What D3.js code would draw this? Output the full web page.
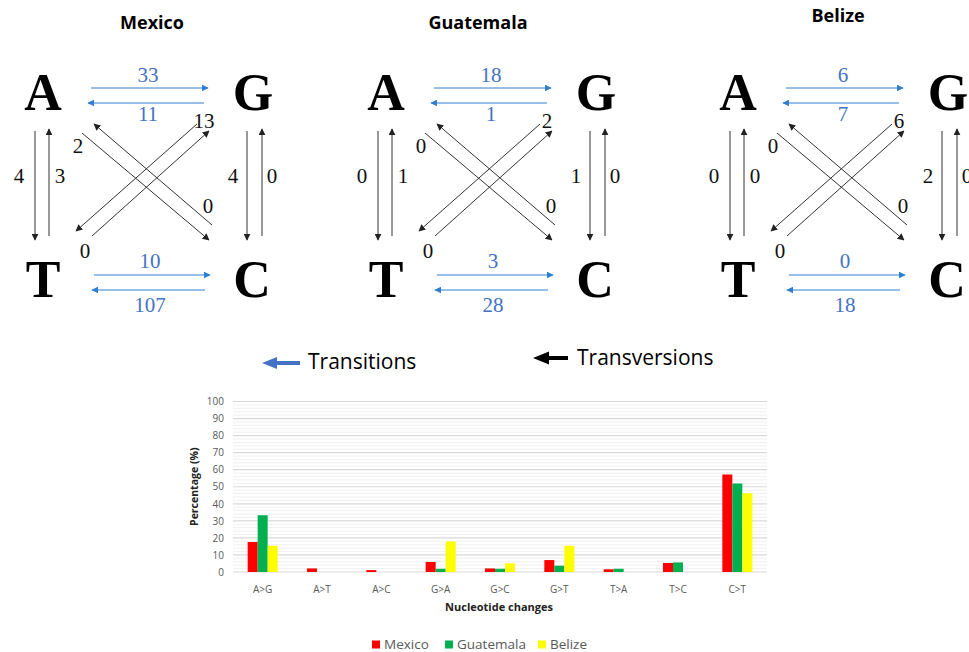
<!DOCTYPE html>
<html>
<head>
<meta charset="utf-8">
<script src="https://cdn.jsdelivr.net/npm/d3@7"></script>
<style>
  body { margin: 0; background: #fff; }
  svg { display: block; }
</style>
</head>
<body>
<div class="mainView"></div>
<script>
// ---- data ----
let countries = ["Mexico", "Guatemala", "Belize"];
let countryColors = ["#ff0000", "#00b050", "#ffff00"];

// counts shown on the substitution diagrams
let changeKeys = ["A>G", "G>A", "T>C", "C>T", "A>T", "T>A", "G>C", "C>G", "A>C", "C>A", "G>T", "T>G"];
let mexicoCounts    = [33, 11, 10, 107, 4, 3, 4, 0, 2, 0, 13, 0];
let guatemalaCounts = [18, 1, 3, 28, 0, 1, 1, 0, 0, 0, 2, 0];
let belizeCounts    = [6, 7, 0, 18, 0, 0, 2, 0, 0, 0, 6, 0];

// bar chart (percentage)
let barCategories = ["A>G", "A>T", "A>C", "G>A", "G>C", "G>T", "T>A", "T>C", "C>T"];
let mexicoPct    = [17.6, 2.1, 1.1, 5.9, 2.1, 7.0, 1.6, 5.3, 57.2];
let guatemalaPct = [33.3, 0, 0, 1.9, 1.9, 3.7, 1.9, 5.6, 51.9];
let belizePct    = [15.4, 0, 0, 17.9, 5.1, 15.4, 0, 0, 46.2];
let yTicks = [0, 10, 20, 30, 40, 50, 60, 70, 80, 90, 100];

let storage = {
    counts: [mexicoCounts, guatemalaCounts, belizeCounts],
    pct: [mexicoPct, guatemalaPct, belizePct]
};

function config(){
    let width = 969, height = 652;
    let svg = d3.select(".mainView")
        .append("svg")
        .attr("width", width)
        .attr("height", height);
    let defs = svg.append("defs");
    [["headBlue", "#2f7fd0"], ["headBlack", "#222"]].forEach(h => {
        defs.append("marker")
            .attr("id", h[0])
            .attr("viewBox", "0 0 10 10")
            .attr("refX", 9).attr("refY", 5)
            .attr("markerWidth", 7).attr("markerHeight", 7)
            .attr("markerUnits", "userSpaceOnUse")
            .attr("orient", "auto")
            .append("path")
            .attr("d", "M0,0 L10,5 L0,10 z")
            .style("fill", h[1]);
    });
    return { width, height, svg };
}

// one diagram, nodes A G T C
function drawDiagram(svg, counts, ox, title, titleX, titleY){
    let g = svg.append("g").attr("transform", "translate(" + [ox, 0] + ")");
    let nodes = { A: [43, 110], G: [253, 110], T: [43, 297], C: [252, 297] };

    // arrow layout per change: [x1,y1,x2,y2, labelX, labelY, transition?]
    let layout = {
        "A>G": [91, 88, 208, 88, 148, 82, true],
        "G>A": [204, 103, 88, 103, 148, 121, true],
        "T>C": [94, 275, 210, 275, 150, 268, true],
        "C>T": [205, 290, 92, 290, 150, 312, true],
        "A>T": [35, 131, 35, 240, 19, 183, false],
        "T>A": [49, 236, 49, 129, 60, 183, false],
        "G>C": [247, 131, 247, 240, 233, 183, false],
        "C>G": [262, 236, 262, 129, 272, 183, false],
        "A>C": [82, 133, 209, 240, 78, 153, false],
        "C>A": [212, 225, 94, 124, 208, 213, false],
        "G>T": [197, 124, 76, 231, 204, 128, false],
        "T>G": [92, 236, 209, 131, 85, 258, false]
    };

    changeKeys.forEach((k, i) => {
        let l = layout[k];
        g.append("line")
            .attr("x1", l[0]).attr("y1", l[1])
            .attr("x2", l[2]).attr("y2", l[3])
            .style("stroke", l[6] ? "#2f7fd0" : "#333")
            .style("stroke-width", 1)
            .attr("marker-end", l[6] ? "url(#headBlue)" : "url(#headBlack)");
        g.append("text")
            .attr("x", l[4]).attr("y", l[5])
            .attr("text-anchor", "middle")
            .style("font-family", "'Liberation Serif', 'Times New Roman', serif")
            .style("font-size", "21px")
            .style("fill", l[6] ? "#4472c4" : "#111")
            .text(counts[i]);
    });

    Object.keys(nodes).forEach(n => {
        g.append("text")
            .attr("x", nodes[n][0]).attr("y", nodes[n][1])
            .attr("text-anchor", "middle")
            .style("font-family", "'Liberation Serif', 'Times New Roman', serif")
            .style("font-weight", "bold")
            .style("font-size", "52px")
            .style("fill", "#000")
            .text(n);
    });

    svg.append("text")
        .attr("x", titleX).attr("y", titleY)
        .attr("text-anchor", "middle")
        .style("font-family", "'Open Sans', sans-serif")
        .style("font-weight", "bold")
        .style("font-size", "18px")
        .text(title);
}

function drawKey(svg){
    // blue block arrow - transitions
    svg.append("path")
        .attr("d", "M262,363 L277,357 L277,361 L300,361 L300,365 L277,365 L277,369 Z")
        .style("fill", "#4472c4");
    svg.append("text")
        .attr("x", 308).attr("y", 369)
        .style("font-family", "'Open Sans', sans-serif")
        .style("font-size", "21px")
        .text("Transitions");
    svg.append("path")
        .attr("d", "M533,358 L549,351.5 L549,356 L568,356 L568,360 L549,360 L549,364.5 Z")
        .style("fill", "#000");
    svg.append("text")
        .attr("x", 577).attr("y", 365)
        .style("font-family", "'Open Sans', sans-serif")
        .style("font-size", "21px")
        .text("Transversions");
}

function drawBars(svg){
    let left = 233, right = 767, top = 401.5, bottom = 572;
    let x = d3.scaleBand().domain(barCategories).range([left, right]);
    let xSub = d3.scaleBand().domain(countries).range([-15, 15]);
    let y = d3.scaleLinear().domain([0, 100]).range([bottom, top]);

    let grid = svg.append("g");
    d3.range(0, 101, 2).forEach(v => {
        if (v % 10 === 0) return;
        grid.append("line")
            .attr("x1", left).attr("x2", right)
            .attr("y1", y(v)).attr("y2", y(v))
            .style("stroke", "#f0f0f0").style("stroke-width", 1);
    });
    yTicks.forEach(v => {
        grid.append("line")
            .attr("x1", left).attr("x2", right)
            .attr("y1", y(v)).attr("y2", y(v))
            .style("stroke", "#d9d9d9").style("stroke-width", 1.2);
    });

    let axisY = d3.axisLeft(y).tickValues(yTicks).tickSize(0).tickPadding(9);
    let gy = svg.append("g").attr("transform", "translate(" + [left, 0] + ")").call(axisY);
    gy.select(".domain").remove();
    gy.selectAll("text")
        .style("font-family", "'Open Sans', sans-serif")
        .style("font-size", "10px")
        .style("fill", "#595959");

    let axisX = d3.axisBottom(x).tickSize(0).tickPadding(14);
    let gx = svg.append("g").attr("transform", "translate(" + [0, bottom] + ")").call(axisX);
    gx.select(".domain").remove();
    gx.selectAll("text")
        .style("font-family", "'Open Sans', sans-serif")
        .style("font-size", "10px")
        .style("fill", "#595959");

    countries.forEach((c, ci) => {
        svg.append("g").selectAll("rect")
            .data(storage.pct[ci])
            .enter()
            .append("rect")
            .attr("x", (d, i) => x(barCategories[i]) + x.bandwidth() / 2 + xSub(c))
            .attr("width", xSub.bandwidth())
            .attr("y", d => y(d))
            .attr("height", d => bottom - y(d))
            .style("fill", countryColors[ci]);
    });

    svg.append("text")
        .attr("transform", "translate(198," + ((top + bottom) / 2) + ") rotate(-90)")
        .attr("text-anchor", "middle")
        .style("font-family", "'Open Sans', sans-serif")
        .style("font-weight", "bold")
        .style("font-size", "10.5px")
        .style("fill", "#222")
        .text("Percentage  (%)");
    svg.append("text")
        .attr("x", 499).attr("y", 611)
        .attr("text-anchor", "middle")
        .style("font-family", "'Open Sans', sans-serif")
        .style("font-weight", "bold")
        .style("font-size", "11px")
        .style("fill", "#222")
        .text("Nucleotide changes");

    // legend
    let legX = [372, 445, 538];
    countries.forEach((c, ci) => {
        svg.append("rect")
            .attr("x", legX[ci]).attr("y", 640.5)
            .attr("width", 8).attr("height", 8)
            .style("fill", countryColors[ci]);
        svg.append("text")
            .attr("x", legX[ci] + 12).attr("y", 648.5)
            .style("font-family", "'Open Sans', sans-serif")
            .style("font-size", "13.5px")
            .style("fill", "#595959")
            .text(c);
    });
}

let { svg } = config();
let offsets = [0, 343, 695];
let titlePos = [[152, 29], [478, 29], [838, 22]];
countries.forEach((c, i) => {
    drawDiagram(svg, storage.counts[i], offsets[i], c, titlePos[i][0], titlePos[i][1]);
});
drawKey(svg);
drawBars(svg);
</script>
</body>
</html>
